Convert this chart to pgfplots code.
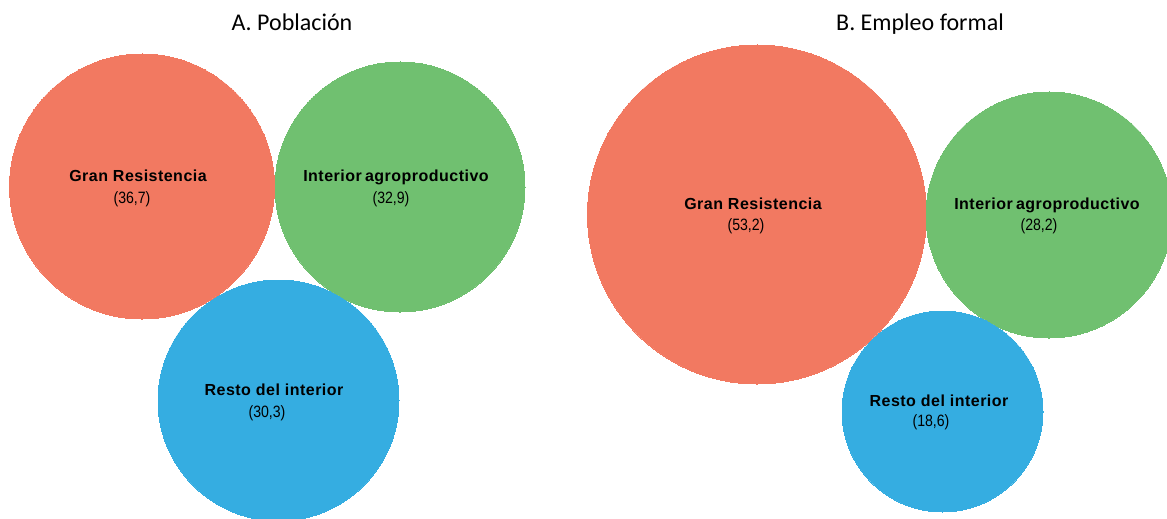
\documentclass[border=0pt]{standalone}
\usepackage{pgfplots}
\pgfplotsset{compat=1.18}
\usepackage{pgfplotstable}
\usepackage{fontspec}
\setmainfont{Carlito}
\newfontfamily\arialb{Liberation Sans}[LetterSpace=3]
\newfontfamily\arialn{Liberation Sans}[FakeStretch=0.86]
\definecolor{cRed}{HTML}{F27961}
\definecolor{cGreen}{HTML}{70C070}
\definecolor{cBlue}{HTML}{35ADE1}
% x, y in px of the 1167x519 canvas; r = bubble radius in pt (px/2)
\pgfplotstableread{
x y r
142 186.5 66.25
757 214.5 84.75
}\gran
\pgfplotstableread{
x y r
400 187 62.5
1049 215 61.5
}\interior
\pgfplotstableread{
x y r
278.5 400.5 60.25
942.5 411.5 50.25
}\resto
\begin{document}
\begin{tikzpicture}
\begin{axis}[
  width=583.5pt, height=259.5pt, scale only axis,
  xmin=0, xmax=1167, ymin=0, ymax=519, y dir=reverse,
  hide axis, clip marker paths=true,
  every axis plot/.append style={only marks, mark=*, scatter,
    visualization depends on={\thisrow{r} \as \rad},
    scatter/@pre marker code/.code={\scope[mark size=\rad pt]},
    scatter/@post marker code/.code={\endscope}},
]
\addplot[mark options={fill=cRed, draw=cRed, line width=0pt}] table[x=x, y=y] {\gran};
\addplot[mark options={fill=cGreen, draw=cGreen, line width=0pt}] table[x=x, y=y] {\interior};
\addplot[mark options={fill=cBlue, draw=cBlue, line width=0pt}] table[x=x, y=y] {\resto};
% titles
\node[anchor=base, font=\fontsize{12}{14}\selectfont] at (axis cs:292,31) {A. Población};
\node[anchor=base, font=\fontsize{12}{14}\selectfont] at (axis cs:920,31) {B. Empleo formal};
% labels panel A
\node[anchor=base, font=\arialb\bfseries\fontsize{8}{9}\selectfont] at (axis cs:138,182) {Gran Resistencia};
\node[anchor=base, font=\arialn\fontsize{8.2}{9}\selectfont] at (axis cs:132,203) {(36,7)};
\node[anchor=base, font=\arialb\bfseries\fontsize{8}{9}\selectfont] at (axis cs:396,182) {Interior\hspace{-0.8pt} agroproductivo};
\node[anchor=base, font=\arialn\fontsize{8.2}{9}\selectfont] at (axis cs:391,203) {(32,9)};
\node[anchor=base, font=\arialb\bfseries\fontsize{8}{9}\selectfont] at (axis cs:274,395) {Resto del interior};
\node[anchor=base, font=\arialn\fontsize{8.2}{9}\selectfont] at (axis cs:267,417) {(30,3)};
% labels panel B
\node[anchor=base, font=\arialb\bfseries\fontsize{8}{9}\selectfont] at (axis cs:753,209) {Gran Resistencia};
\node[anchor=base, font=\arialn\fontsize{8.2}{9}\selectfont] at (axis cs:746,230) {(53,2)};
\node[anchor=base, font=\arialb\bfseries\fontsize{8}{9}\selectfont] at (axis cs:1047,209) {Interior\hspace{-0.8pt} agroproductivo};
\node[anchor=base, font=\arialn\fontsize{8.2}{9}\selectfont] at (axis cs:1039,230) {(28,2)};
\node[anchor=base, font=\arialb\bfseries\fontsize{8}{9}\selectfont] at (axis cs:939,406) {Resto del interior};
\node[anchor=base, font=\arialn\fontsize{8.2}{9}\selectfont] at (axis cs:931,426) {(18,6)};
\end{axis}
\pgfresetboundingbox
\path (current axis.south west) rectangle (current axis.north east);
\end{tikzpicture}
\end{document}
